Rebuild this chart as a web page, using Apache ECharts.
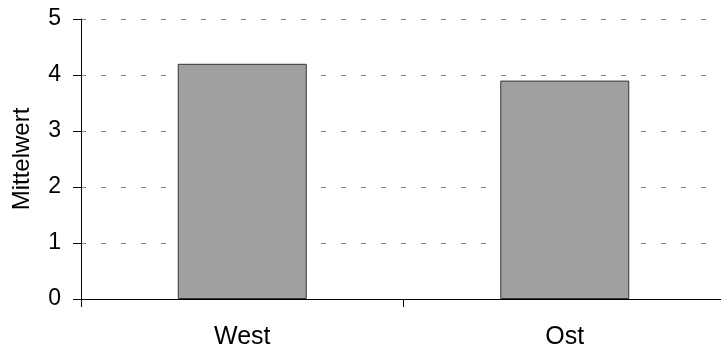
<!DOCTYPE html>
<html>
<head>
<meta charset="utf-8">
<script src="https://cdn.jsdelivr.net/npm/echarts@6/dist/echarts.min.js"></script>
<style>html,body{margin:0;padding:0;background:#fff}#c{width:721px;height:352px}</style>
</head>
<body>
<div id="c"></div>
<script>
const categories = ['West', 'Ost'];
const values = [4.2, 3.9];
const yTicks = [0, 1, 2, 3, 4, 5];
const axisName = 'Mittelwert';

const chart = echarts.init(document.getElementById('c'), null, {renderer: 'canvas'});
const font = 'Liberation Sans, Arial, sans-serif';
chart.setOption({
  animation: false,
  backgroundColor: '#ffffff',
  grid: {left: 81, top: 19, width: 645, height: 280, containLabel: false, outerBoundsMode: 'none'},
  xAxis: {
    type: 'category',
    data: categories,
    axisLine: {lineStyle: {color: '#000', width: 1}},
    axisTick: {show: true, length: 8, lineStyle: {color: '#000'}},
    axisLabel: {color: '#000', fontFamily: font, fontSize: 25, margin: 26}
  },
  yAxis: {
    type: 'value',
    min: yTicks[0],
    max: yTicks[yTicks.length - 1],
    interval: 1,
    name: axisName,
    nameLocation: 'middle',
    nameRotate: 90,
    nameGap: 47,
    nameTextStyle: {color: '#000', fontFamily: font, fontSize: 24},
    axisLine: {show: true, lineStyle: {color: '#000', width: 1}},
    axisTick: {show: true, length: 8, lineStyle: {color: '#000'}},
    axisLabel: {color: '#000', fontFamily: font, fontSize: 23, margin: 20},
    splitLine: {show: true, lineStyle: {color: '#808080', width: 1, type: [5, 15]}}
  },
  series: [{
    type: 'bar',
    data: values,
    barWidth: '40%',
    itemStyle: {color: '#a0a0a0', borderColor: '#333', borderWidth: 1}
  }]
});
</script>
</body>
</html>
